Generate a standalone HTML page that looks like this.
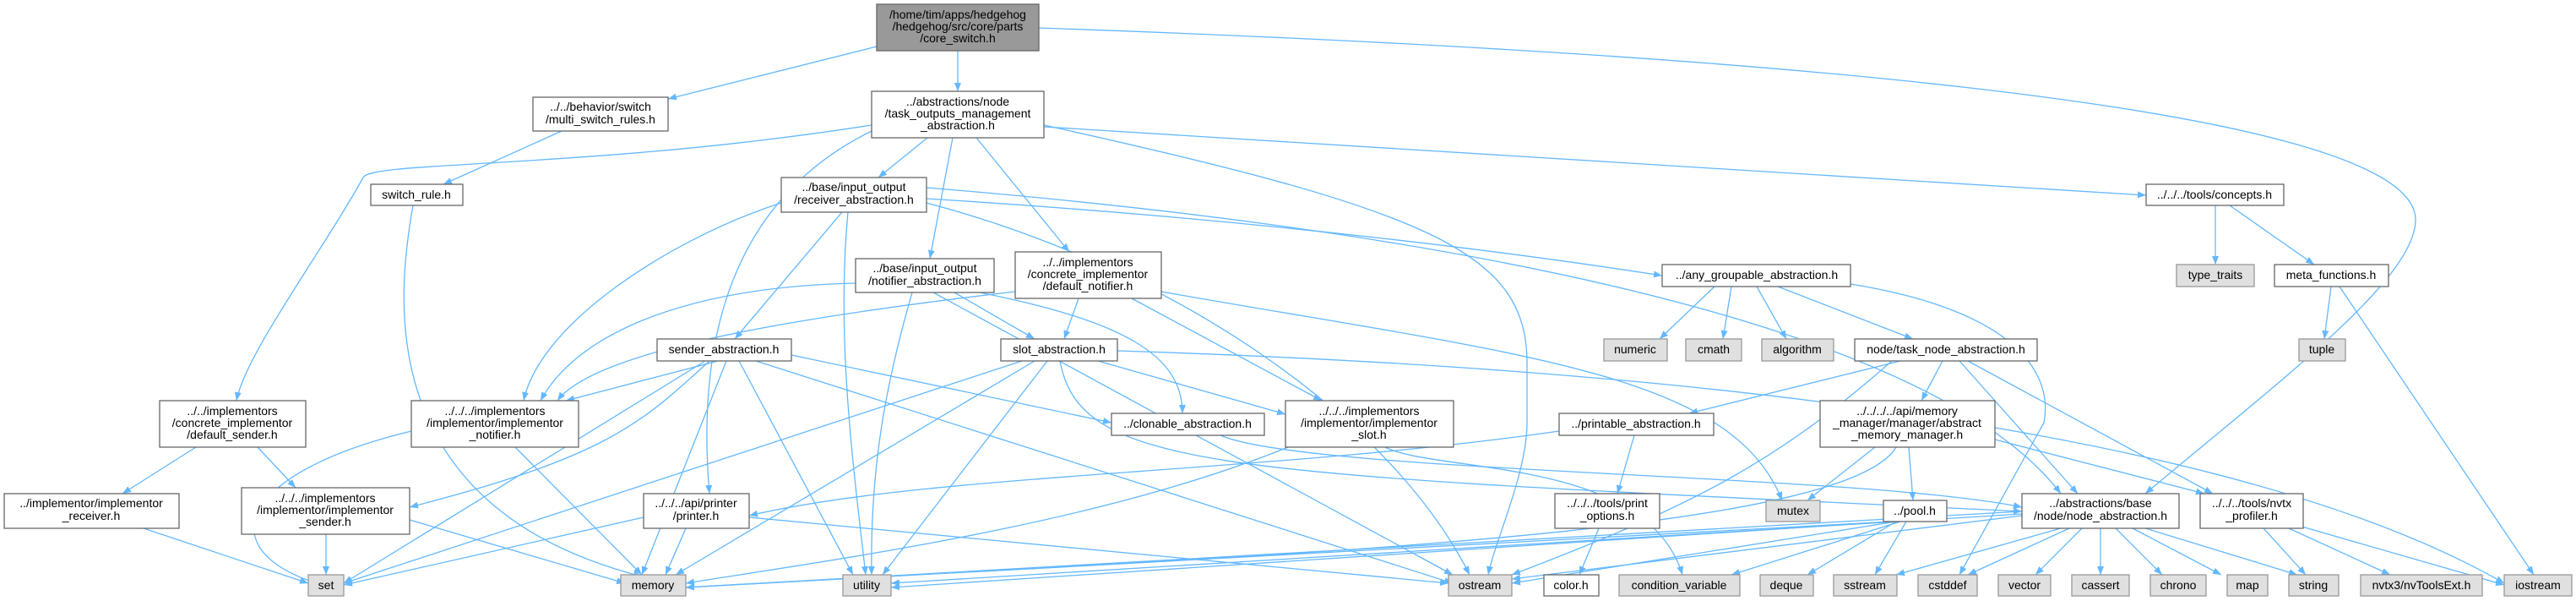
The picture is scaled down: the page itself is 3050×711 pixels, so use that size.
<!DOCTYPE html>
<html><head><meta charset="utf-8"><style>
html,body{margin:0;padding:0;background:#fff}
svg{display:block}
text{font-family:"Liberation Sans",sans-serif;font-size:14px;fill:#000;text-anchor:middle}
.n{fill:#fff;stroke:#666;stroke-width:1.3}
.g{fill:#e0e0e0;stroke:#999;stroke-width:1.3}
.t{fill:#999;stroke:#666;stroke-width:1.3}
path,line{stroke:#63b8ff;stroke-width:1.3;fill:none}
</style></head><body>
<svg width="3050" height="711" viewBox="0 0 3050 711" xmlns="http://www.w3.org/2000/svg">
<defs><marker id="a" viewBox="0 0 10 8" refX="10" refY="4" markerWidth="10" markerHeight="8" markerUnits="userSpaceOnUse" orient="auto"><polygon points="0,0 10,4 0,8" style="fill:#63b8ff;stroke:none"/></marker></defs>
<g marker-end="url(#a)">
<line x1="1038" y1="55" x2="791" y2="117"/>
<line x1="1134" y1="60" x2="1134" y2="108"/>
<path d="M1230,33 C2000,60 2860,120 2860,260 C2860,330 2700,450 2540,584"/>
<line x1="665" y1="155" x2="525" y2="218"/>
<path d="M489,243 C470,350 440,600 760,682"/>
<path d="M1032,148 C700,200 440,190 430,210 C380,300 290,420 280,474"/>
<line x1="1098" y1="163" x2="1040" y2="210"/>
<line x1="1128" y1="163" x2="1101" y2="306"/>
<line x1="1156" y1="163" x2="1266" y2="298"/>
<path d="M1032,155 C900,220 820,350 840,584"/>
<path d="M1236,148 C1700,250 1808,300 1808,430 L1808,500 C1808,560 1770,640 1762,680"/>
<line x1="1236" y1="150" x2="2541" y2="231"/>
<line x1="997" y1="251" x2="870" y2="401"/>
<path d="M925,240 C800,280 640,380 620,474"/>
<path d="M1004,251 C990,400 1010,550 1025,680"/>
<path d="M1097,240 C1400,320 1650,500 1740,680"/>
<path d="M1097,235 C1500,260 1800,300 1968,326"/>
<path d="M1097,222 C1800,280 2300,400 2440,584"/>
<line x1="1130" y1="346" x2="1225" y2="401"/>
<path d="M1013,335 C800,340 680,400 640,474"/>
<path d="M1160,346 C1330,380 1400,420 1400,489"/>
<path d="M1080,346 C1050,450 1030,550 1032,680"/>
<line x1="1105" y1="346" x2="1720" y2="680"/>
<line x1="1277" y1="353" x2="1260" y2="401"/>
<line x1="1340" y1="353" x2="1565" y2="474"/>
<path d="M1202,345 C900,380 700,420 660,474"/>
<path d="M1375,345 C1800,420 2050,440 2110,592"/>
<line x1="850" y1="427" x2="670" y2="474"/>
<path d="M840,427 C760,500 720,540 485,600"/>
<line x1="937" y1="420" x2="1316" y2="500"/>
<line x1="860" y1="427" x2="760" y2="680"/>
<line x1="875" y1="427" x2="1010" y2="680"/>
<line x1="895" y1="427" x2="1720" y2="690"/>
<line x1="835" y1="427" x2="407" y2="690"/>
<line x1="1300" y1="427" x2="1522" y2="490"/>
<line x1="1210" y1="427" x2="407" y2="690"/>
<line x1="1225" y1="427" x2="800" y2="680"/>
<line x1="1240" y1="427" x2="1045" y2="680"/>
<path d="M1255,427 C1280,560 1450,560 2394,605"/>
<path d="M1323,415 C1800,430 2600,480 2965,690"/>
<path d="M487,510 C280,560 250,650 375,690"/>
<line x1="610" y1="529" x2="760" y2="680"/>
<line x1="386" y1="632" x2="386" y2="680"/>
<line x1="485" y1="615" x2="740" y2="690"/>
<line x1="232" y1="529" x2="145" y2="584"/>
<line x1="305" y1="529" x2="350" y2="577"/>
<line x1="170" y1="625" x2="365" y2="690"/>
<line x1="762" y1="612" x2="407" y2="692"/>
<line x1="812" y1="625" x2="788" y2="680"/>
<line x1="887" y1="612" x2="1715" y2="690"/>
<path d="M1445,515 C1550,560 2200,560 2394,600"/>
<path d="M1525,529 C1300,620 1000,660 812,690"/>
<path d="M1640,529 C1700,560 1950,540 1992,680"/>
<path d="M1846,510 C1500,560 1100,560 887,610"/>
<line x1="1935" y1="515" x2="1915" y2="584"/>
<line x1="1893" y1="625" x2="1870" y2="680"/>
<line x1="2030" y1="339" x2="1965" y2="401"/>
<line x1="2050" y1="339" x2="2040" y2="401"/>
<line x1="2080" y1="339" x2="2115" y2="401"/>
<line x1="2105" y1="339" x2="2265" y2="401"/>
<path d="M2191,336 C2400,370 2430,450 2420,500 L2320,680"/>
<line x1="2250" y1="427" x2="2000" y2="489"/>
<path d="M2240,427 C2100,550 2000,600 1790,680"/>
<line x1="2300" y1="427" x2="2275" y2="474"/>
<line x1="2320" y1="427" x2="2460" y2="584"/>
<line x1="2330" y1="427" x2="2620" y2="584"/>
<line x1="2220" y1="529" x2="2140" y2="592"/>
<line x1="2260" y1="529" x2="2265" y2="592"/>
<path d="M2245,529 C2180,640 1400,660 812,695"/>
<line x1="2362" y1="520" x2="2610" y2="584"/>
<line x1="2240" y1="617" x2="812" y2="695"/>
<line x1="2240" y1="617" x2="1055" y2="695"/>
<line x1="2245" y1="617" x2="1790" y2="690"/>
<line x1="2250" y1="617" x2="2050" y2="680"/>
<line x1="2245" y1="617" x2="2140" y2="680"/>
<line x1="2257" y1="617" x2="2220" y2="680"/>
<line x1="2394" y1="605" x2="812" y2="695"/>
<line x1="2394" y1="608" x2="1055" y2="690"/>
<line x1="2394" y1="610" x2="1790" y2="685"/>
<line x1="2440" y1="625" x2="2245" y2="680"/>
<line x1="2450" y1="625" x2="2330" y2="680"/>
<line x1="2465" y1="625" x2="2410" y2="680"/>
<line x1="2487" y1="625" x2="2487" y2="680"/>
<line x1="2505" y1="625" x2="2560" y2="680"/>
<line x1="2525" y1="625" x2="2630" y2="680"/>
<line x1="2540" y1="625" x2="2720" y2="680"/>
<line x1="2680" y1="625" x2="2730" y2="680"/>
<line x1="2710" y1="625" x2="2830" y2="680"/>
<line x1="2722" y1="622" x2="2965" y2="692"/>
<line x1="2623" y1="243" x2="2623" y2="313"/>
<line x1="2640" y1="243" x2="2740" y2="313"/>
<line x1="2760" y1="339" x2="2752" y2="401"/>
<line x1="2770" y1="339" x2="3000" y2="680"/>
</g>
<!-- nodes -->
<rect class="t" x="1038" y="5" width="192" height="55"/><text x="1134" y="22">/home/tim/apps/hedgehog</text><text x="1134" y="36">/hedgehog/src/core/parts</text><text x="1134" y="50">/core_switch.h</text>
<rect class="n" x="631" y="115" width="160" height="40"/><text x="711" y="131">../../behavior/switch</text><text x="711" y="146">/multi_switch_rules.h</text>
<rect class="n" x="1032" y="108" width="204" height="55"/><text x="1134" y="125">../abstractions/node</text><text x="1134" y="139">/task_outputs_management</text><text x="1134" y="153">_abstraction.h</text>
<rect class="n" x="439" y="218" width="109" height="25"/><text x="493" y="235">switch_rule.h</text>
<rect class="n" x="925" y="210" width="172" height="41"/><text x="1011" y="226">../base/input_output</text><text x="1011" y="241">/receiver_abstraction.h</text>
<rect class="n" x="2541" y="218" width="163" height="25"/><text x="2622" y="235">../../../tools/concepts.h</text>
<rect class="n" x="1013" y="306" width="164" height="40"/><text x="1095" y="322">../base/input_output</text><text x="1095" y="337">/notifier_abstraction.h</text>
<rect class="n" x="1202" y="298" width="173" height="55"/><text x="1288" y="315">../../implementors</text><text x="1288" y="329">/concrete_implementor</text><text x="1288" y="343">/default_notifier.h</text>
<rect class="n" x="1968" y="313" width="223" height="26"/><text x="2080" y="330">../any_groupable_abstraction.h</text>
<rect class="g" x="2577" y="313" width="92" height="26"/><text x="2623" y="330">type_traits</text>
<rect class="n" x="2693" y="313" width="135" height="26"/><text x="2760" y="330">meta_functions.h</text>
<rect class="n" x="778" y="401" width="159" height="26"/><text x="857" y="418">sender_abstraction.h</text>
<rect class="n" x="1185" y="401" width="138" height="26"/><text x="1254" y="418">slot_abstraction.h</text>
<rect class="g" x="1899" y="401" width="75" height="26"/><text x="1936" y="418">numeric</text>
<rect class="g" x="1996" y="401" width="66" height="26"/><text x="2029" y="418">cmath</text>
<rect class="g" x="2086" y="401" width="85" height="26"/><text x="2128" y="418">algorithm</text>
<rect class="n" x="2196" y="401" width="216" height="26"/><text x="2304" y="418">node/task_node_abstraction.h</text>
<rect class="g" x="2722" y="401" width="55" height="26"/><text x="2749" y="418">tuple</text>
<rect class="n" x="189" y="474" width="173" height="55"/><text x="275" y="491">../../implementors</text><text x="275" y="505">/concrete_implementor</text><text x="275" y="519">/default_sender.h</text>
<rect class="n" x="487" y="474" width="198" height="55"/><text x="586" y="491">../../../implementors</text><text x="586" y="505">/implementor/implementor</text><text x="586" y="519">_notifier.h</text>
<rect class="n" x="1522" y="474" width="199" height="55"/><text x="1621" y="491">../../../implementors</text><text x="1621" y="505">/implementor/implementor</text><text x="1621" y="519">_slot.h</text>
<rect class="n" x="2155" y="474" width="207" height="55"/><text x="2258" y="491">../../../../api/memory</text><text x="2258" y="505">_manager/manager/abstract</text><text x="2258" y="519">_memory_manager.h</text>
<rect class="n" x="1316" y="489" width="181" height="26"/><text x="1406" y="506">../clonable_abstraction.h</text>
<rect class="n" x="1846" y="489" width="183" height="26"/><text x="1937" y="506">../printable_abstraction.h</text>
<rect class="n" x="5" y="584" width="207" height="41"/><text x="108" y="600">../implementor/implementor</text><text x="108" y="615">_receiver.h</text>
<rect class="n" x="286" y="577" width="199" height="55"/><text x="385" y="594">../../../implementors</text><text x="385" y="608">/implementor/implementor</text><text x="385" y="622">_sender.h</text>
<rect class="n" x="762" y="584" width="125" height="41"/><text x="824" y="600">../../../api/printer</text><text x="824" y="615">/printer.h</text>
<rect class="n" x="1841" y="584" width="124" height="41"/><text x="1903" y="600">../../../tools/print</text><text x="1903" y="615">_options.h</text>
<rect class="n" x="2394" y="584" width="186" height="41"/><text x="2487" y="600">../abstractions/base</text><text x="2487" y="615">/node/node_abstraction.h</text>
<rect class="n" x="2605" y="584" width="122" height="41"/><text x="2666" y="600">../../../tools/nvtx</text><text x="2666" y="615">_profiler.h</text>
<rect class="g" x="2091" y="592" width="64" height="25"/><text x="2123" y="609">mutex</text>
<rect class="n" x="2230" y="592" width="75" height="25"/><text x="2267" y="609">../pool.h</text>
<rect class="g" x="365" y="680" width="42" height="25"/><text x="386" y="697">set</text>
<rect class="g" x="735" y="680" width="77" height="25"/><text x="773" y="697">memory</text>
<rect class="g" x="998" y="680" width="57" height="25"/><text x="1026" y="697">utility</text>
<rect class="g" x="1715" y="680" width="75" height="25"/><text x="1752" y="697">ostream</text>
<rect class="n" x="1828" y="680" width="65" height="25"/><text x="1860" y="697">color.h</text>
<rect class="g" x="1917" y="680" width="143" height="25"/><text x="1988" y="697">condition_variable</text>
<rect class="g" x="2084" y="680" width="63" height="25"/><text x="2115" y="697">deque</text>
<rect class="g" x="2171" y="680" width="75" height="25"/><text x="2208" y="697">sstream</text>
<rect class="g" x="2271" y="680" width="70" height="25"/><text x="2306" y="697">cstddef</text>
<rect class="g" x="2366" y="680" width="62" height="25"/><text x="2397" y="697">vector</text>
<rect class="g" x="2453" y="680" width="68" height="25"/><text x="2487" y="697">cassert</text>
<rect class="g" x="2546" y="680" width="66" height="25"/><text x="2579" y="697">chrono</text>
<rect class="g" x="2637" y="680" width="48" height="25"/><text x="2661" y="697">map</text>
<rect class="g" x="2710" y="680" width="59" height="25"/><text x="2739" y="697">string</text>
<rect class="g" x="2795" y="680" width="144" height="25"/><text x="2867" y="697">nvtx3/nvToolsExt.h</text>
<rect class="g" x="2965" y="680" width="80" height="25"/><text x="3005" y="697">iostream</text>
</svg>
</body></html>
